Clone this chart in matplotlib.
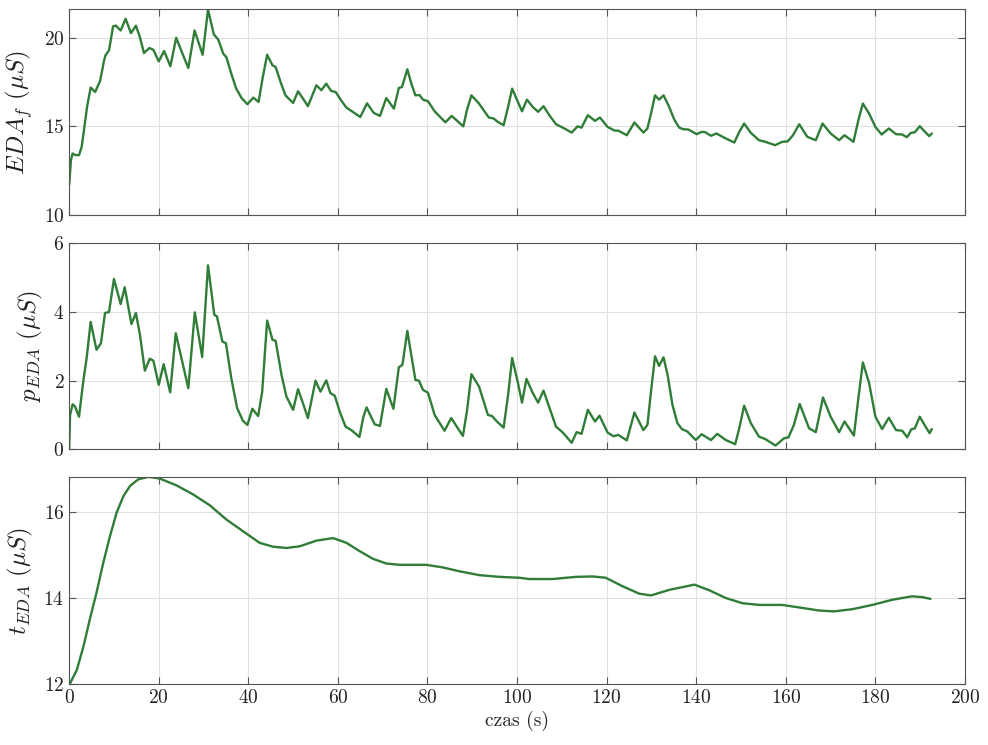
import numpy as np
import matplotlib
matplotlib.use("Agg")
import matplotlib.pyplot as plt

plt.rcParams['font.family'] = ['cmr10', 'DejaVu Serif']
plt.rcParams['mathtext.fontset'] = 'cm'
plt.rcParams['axes.formatter.use_mathtext'] = True

# EDA_f (filtered signal)
t_f = [0.0, 0.4, 0.77, 1.4, 2.2, 2.8, 3.5, 4.0, 4.8, 5.8, 6.9, 7.8, 8.1, 8.9, 9.8, 10.4,
       11.5, 12.6, 13.8, 14.9, 15.8, 16.7, 17.9, 18.8, 20.0, 21.2, 22.6, 23.9, 25.3, 26.6,
       28.0, 29.8, 31.0, 32.3, 33.3, 34.4, 35.1, 36.2, 37.3, 38.5, 39.8, 41.1, 42.3, 43.1,
       44.2, 45.4, 46.1, 47.2, 48.3, 50.0, 51.1, 52.2, 53.3, 55.2, 56.3, 57.4, 58.5, 59.5,
       60.7, 61.9, 63.3, 65.0, 66.5, 68.0, 69.4, 70.8, 72.5, 73.6, 74.3, 75.5, 76.4, 77.3,
       78.2, 79.0, 80.1, 81.6, 84.0, 85.4, 88.0, 88.8, 89.8, 91.4, 93.7, 94.8, 95.7, 97.0,
       98.0, 98.9, 100.2, 101.1, 102.2, 103.5, 104.7, 105.9, 107.2, 108.7, 110.2, 112.2,
       113.5, 114.4, 115.8, 117.4, 118.5, 120.2, 121.7, 122.7, 124.5, 126.2, 128.2, 129.1,
       129.9, 130.8, 131.7, 132.7, 133.8, 135.1, 136.2, 137.1, 138.3, 140.1, 141.2, 142.0,
       143.3, 144.5, 146.2, 148.5, 149.6, 150.7, 152.2, 154.0, 155.4, 157.6, 159.2, 160.4,
       161.6, 163.0, 164.8, 166.7, 168.2, 170.0, 171.9, 173.1, 175.1, 176.2, 177.2, 178.6,
       180.0, 181.4, 183.0, 184.6, 186.0, 187.0, 187.9, 188.8, 189.9, 191.1, 192.0, 192.6]
eda_f = [11.69, 13.1, 13.47, 13.38, 13.38, 13.85, 15.16, 16.1, 17.19, 16.94, 17.56, 18.72, 19.0,
         19.29, 20.64, 20.69, 20.41, 21.07, 20.26, 20.68, 20.04, 19.14, 19.42, 19.32, 18.67,
         19.25, 18.39, 20.0, 19.1, 18.29, 20.41, 19.04, 21.58, 20.19, 19.89, 19.1, 18.91, 17.97,
         17.13, 16.6, 16.25, 16.62, 16.38, 17.6, 19.04, 18.44, 18.35, 17.5, 16.75, 16.32, 16.98,
         16.57, 16.14, 17.32, 17.04, 17.41, 17.0, 16.94, 16.47, 16.06, 15.82, 15.53, 16.3, 15.76,
         15.59, 16.6, 16.0, 17.17, 17.22, 18.22, 17.41, 16.75, 16.77, 16.51, 16.42, 15.85, 15.23,
         15.59, 15.0, 15.91, 16.75, 16.32, 15.5, 15.44, 15.25, 15.07, 16.1, 17.13, 16.38, 15.85,
         16.51, 16.1, 15.82, 16.14, 15.63, 15.12, 14.93, 14.65, 15.0, 14.93, 15.63, 15.31, 15.5,
         14.97, 14.77, 14.75, 14.5, 15.22, 14.65, 14.88, 15.72, 16.75, 16.51, 16.75, 16.19,
         15.38, 14.93, 14.84, 14.82, 14.56, 14.69, 14.67, 14.47, 14.6, 14.37, 14.09, 14.69,
         15.16, 14.63, 14.22, 14.13, 13.94, 14.13, 14.15, 14.5, 15.12, 14.41, 14.22, 15.16,
         14.6, 14.22, 14.5, 14.13, 15.35, 16.29, 15.72, 14.97, 14.54, 14.88, 14.56, 14.54,
         14.39, 14.63, 14.67, 15.01, 14.69, 14.45, 14.6]

# p_EDA (phasic component)
t_p = [0.0, 0.2, 0.77, 1.3, 2.2, 3.15, 3.9, 4.8, 5.4, 6.1, 7.1, 8.0, 8.9, 10.0, 11.5, 12.4,
       13.9, 14.9, 15.8, 16.9, 18.0, 18.8, 20.0, 21.1, 22.55, 23.8, 25.4, 26.6, 28.05, 29.7,
       31.0, 32.4, 33.0, 34.2, 35.0, 36.2, 37.5, 38.8, 39.8, 40.9, 42.2, 43.1, 44.2, 45.4,
       46.1, 47.4, 48.5, 50.0, 51.1, 52.2, 53.3, 55.0, 56.1, 57.4, 58.3, 59.3, 60.4, 61.7,
       63.0, 64.8, 65.7, 66.4, 68.2, 69.4, 70.8, 72.4, 73.6, 74.4, 75.5, 77.3, 78.1, 79.0,
       80.1, 81.6, 83.8, 85.3, 87.9, 88.8, 89.8, 91.5, 93.5, 94.4, 95.5, 97.0, 98.0, 98.9,
       100.2, 101.1, 102.1, 103.5, 104.7, 105.9, 107.2, 108.7, 110.2, 112.2, 113.3, 114.4,
       115.8, 117.4, 118.4, 120.2, 121.5, 122.6, 124.5, 126.2, 128.2, 129.1, 129.9, 130.8,
       131.7, 132.7, 133.6, 134.7, 135.8, 136.8, 138.0, 139.9, 141.2, 143.3, 144.7, 146.6,
       148.7, 149.6, 150.7, 152.2, 154.0, 155.4, 157.7, 159.6, 160.6, 161.8, 163.1, 165.2,
       166.7, 168.3, 170.0, 171.9, 173.1, 175.2, 176.2, 177.2, 178.6, 180.0, 181.5, 183.0,
       184.6, 186.0, 187.1, 188.0, 188.8, 189.9, 191.2, 192.1, 192.6]
p_eda = [0.0, 1.0, 1.31, 1.25, 0.95, 1.98, 2.66, 3.71, 3.34, 2.9, 3.09, 3.97, 4.0, 4.96, 4.23,
         4.72, 3.65, 3.97, 3.34, 2.29, 2.64, 2.58, 1.88, 2.48, 1.66, 3.38, 2.46, 1.78, 3.99,
         2.69, 5.36, 3.92, 3.87, 3.14, 3.09, 2.07, 1.2, 0.83, 0.71, 1.18, 0.97, 1.68, 3.75,
         3.19, 3.16, 2.17, 1.54, 1.15, 1.75, 1.34, 0.91, 2.0, 1.68, 2.01, 1.64, 1.56, 1.10,
         0.66, 0.56, 0.36, 0.95, 1.22, 0.73, 0.68, 1.76, 1.18, 2.39, 2.46, 3.45, 2.02, 2.0,
         1.73, 1.65, 1.0, 0.54, 0.91, 0.39, 1.1, 2.19, 1.83, 1.0, 0.97, 0.81, 0.63, 1.59, 2.66,
         1.93, 1.36, 2.05, 1.64, 1.36, 1.71, 1.22, 0.66, 0.49, 0.19, 0.5, 0.45, 1.15, 0.81,
         0.98, 0.49, 0.38, 0.42, 0.26, 1.07, 0.56, 0.71, 1.68, 2.71, 2.43, 2.68, 2.17, 1.29,
         0.76, 0.59, 0.52, 0.27, 0.44, 0.27, 0.45, 0.27, 0.15, 0.61, 1.27, 0.76, 0.37, 0.30,
         0.11, 0.32, 0.35, 0.71, 1.32, 0.61, 0.5, 1.51, 0.95, 0.5, 0.81, 0.4, 1.49, 2.53, 1.93,
         0.95, 0.59, 0.92, 0.56, 0.54, 0.35, 0.58, 0.61, 0.95, 0.66, 0.47, 0.59]

# t_EDA (tonic component)
t_t = [0.2, 1.7, 3.2, 4.6, 6.1, 7.6, 9.1, 10.6, 12.1, 13.6, 15.4, 17.7, 20.2, 24.0, 27.7,
       31.4, 35.1, 38.8, 42.5, 45.5, 48.5, 51.5, 55.2, 58.9, 61.9, 64.8, 67.8, 70.8, 73.8,
       79.7, 83.4, 87.1, 91.6, 96.1, 100.5, 102.7, 107.9, 113.1, 116.9, 119.8, 123.6, 127.3,
       129.9, 134.0, 139.6, 142.9, 146.6, 150.3, 154.0, 159.2, 163.7, 167.4, 170.7, 174.8,
       179.3, 183.8, 188.2, 190.5, 192.3]
t_eda = [12.02, 12.33, 12.88, 13.5, 14.12, 14.81, 15.43, 15.98, 16.36, 16.6, 16.75, 16.81,
         16.77, 16.61, 16.4, 16.15, 15.82, 15.55, 15.28, 15.19, 15.16, 15.2, 15.33, 15.39,
         15.28, 15.09, 14.91, 14.8, 14.77, 14.77, 14.71, 14.62, 14.53, 14.49, 14.47, 14.44,
         14.44, 14.49, 14.5, 14.47, 14.27, 14.1, 14.06, 14.19, 14.31, 14.18, 14.0, 13.88,
         13.84, 13.84, 13.77, 13.71, 13.69, 13.74, 13.84, 13.96, 14.04, 14.02, 13.98]

green = '#2f7d37'
fig = plt.figure(figsize=(9.88, 7.45), dpi=100)

panels = [
    (t_f, eda_f, (10, 21.6), [10, 15, 20], r'$EDA_f\ (\mu S)$', [0.070, 0.7114, 0.9067, 0.2760]),
    (t_p, p_eda, (0, 6), [0, 2, 4, 6], r'$p_{EDA}\ (\mu S)$', [0.070, 0.3969, 0.9067, 0.2765]),
    (t_t, t_eda, (12, 16.8), [12, 14, 16], r'$t_{EDA}\ (\mu S)$', [0.070, 0.0815, 0.9067, 0.2779]),
]

for i, (x, y, ylim, yticks, ylabel, pos) in enumerate(panels):
    ax = fig.add_axes(pos)
    ax.plot(x, y, color=green, lw=1.7, solid_joinstyle='round', solid_capstyle='round')
    ax.set_xlim(0, 200)
    ax.set_ylim(*ylim)
    ax.set_xticks(np.arange(0, 201, 20))
    ax.set_yticks(yticks)
    ax.grid(True, color='#e0e0e0', lw=0.8)
    ax.set_axisbelow(True)
    for s in ax.spines.values():
        s.set_color('#555555')
        s.set_linewidth(0.8)
    ax.tick_params(direction='in', top=True, right=True, length=5, width=0.8,
                   color='#555555', labelsize=14, labelcolor='#222222')
    ax.set_ylabel(ylabel, fontsize=18, labelpad=6, color='#222222')
    if i < 2:
        ax.set_xticklabels([])
    else:
        ax.set_xlabel('czas (s)', fontsize=14, color='#222222', labelpad=3)

fig.savefig('out.png', dpi=100)
